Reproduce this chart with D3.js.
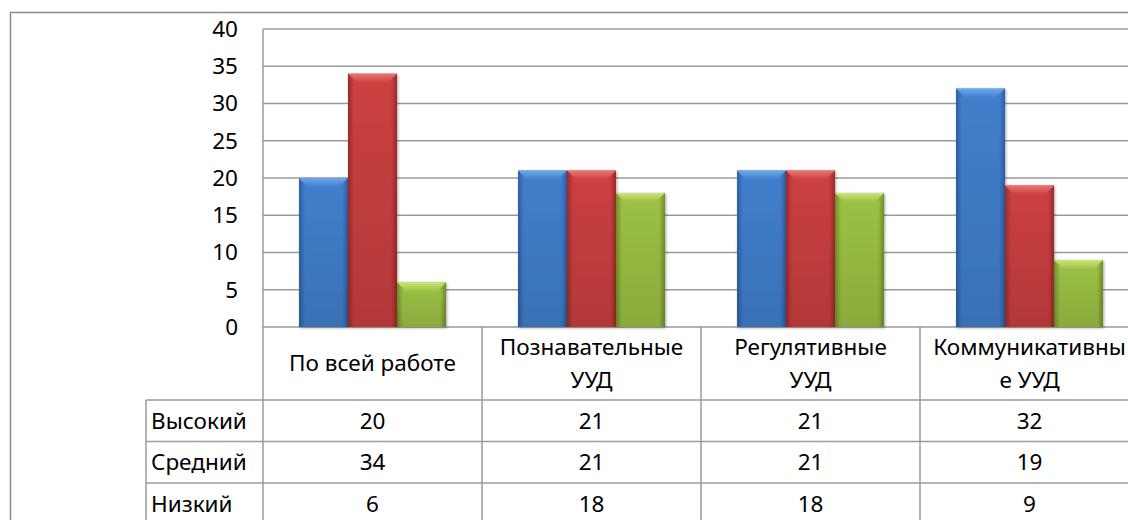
<!DOCTYPE html>
<html>
<head>
<meta charset="utf-8">
<title>УУД</title>
<script src="https://d3js.org/d3.v7.min.js"></script>
<style>
  body { margin: 0; background: #fff; }
  text { font-family: "Noto Sans", "Open Sans", sans-serif; fill: #000; }
</style>
</head>
<body>
<div id="chart"></div>
<script>
var categories = ["По всей работе", "Познавательные УУД", "Регулятивные УУД", "Коммуникативные УУД"];
var categoryLines = [["По всей работе"], ["Познавательные", "УУД"], ["Регулятивные", "УУД"], ["Коммуникативны", "е УУД"]];
var seriesNames = ["Высокий", "Средний", "Низкий"];
var high = [20, 21, 21, 32];
var mid = [34, 21, 21, 19];
var low = [6, 18, 18, 9];
var yTicks = [0, 5, 10, 15, 20, 25, 30, 35, 40];

var seriesValues = [high, mid, low];
var colors = [
  { edge: "#2c5fa3", center: "#417fcd", top: "#6fa8ea" },
  { edge: "#9c2a2a", center: "#cc4040", top: "#ea7676" },
  { edge: "#6f8f28", center: "#9dc145", top: "#cce47a" }
];

var width = 1128, height = 520;
var plotLeft = 263, plotRight = 1139, plotTop = 29, plotBottom = 327;
var headerH = 73, rowH = 41.5, tableLeft = 146;
var fontSize = 22.5;

var svg = d3.select("#chart").append("svg")
  .attr("width", width)
  .attr("height", height);

var defs = svg.append("defs");
colors.forEach(function (c, i) {
  var g = defs.append("linearGradient").attr("id", "side" + i)
    .attr("x1", 0).attr("x2", 1).attr("y1", 0).attr("y2", 0);
  g.append("stop").attr("offset", "0%").attr("stop-color", c.edge);
  g.append("stop").attr("offset", "12%").attr("stop-color", c.center);
  g.append("stop").attr("offset", "88%").attr("stop-color", c.center);
  g.append("stop").attr("offset", "100%").attr("stop-color", c.edge);
  var t = defs.append("linearGradient").attr("id", "top" + i)
    .attr("x1", 0).attr("x2", 0).attr("y1", 0).attr("y2", 1);
  t.append("stop").attr("offset", "0%").attr("stop-color", c.top);
  t.append("stop").attr("offset", "100%").attr("stop-color", c.center);
});
var shade = defs.append("linearGradient").attr("id", "shade")
  .attr("x1", 0).attr("x2", 0).attr("y1", 0).attr("y2", 1);
shade.append("stop").attr("offset", "0%").attr("stop-color", "#000").attr("stop-opacity", 0);
shade.append("stop").attr("offset", "100%").attr("stop-color", "#000").attr("stop-opacity", 0.12);

var shadow = defs.append("filter").attr("id", "shadow")
  .attr("x", "-20%").attr("y", "-20%").attr("width", "140%").attr("height", "140%");
shadow.append("feDropShadow").attr("dx", 1).attr("dy", 1).attr("stdDeviation", 1.5)
  .attr("flood-color", "#000").attr("flood-opacity", 0.35);

var y = d3.scaleLinear().domain([0, 40]).range([plotBottom, plotTop]);
var x0 = d3.scaleBand().domain(categories).range([plotLeft, plotRight]);
var x1 = d3.scaleBand().domain(seriesNames).range([0, x0.bandwidth()]).paddingOuter(0.735);

// table grid
var tableTop = plotBottom;
var rowsTop = tableTop + headerH;
var tableBottom = rowsTop + rowH * seriesNames.length;

var hLines = d3.range(seriesNames.length + 1).map(function (r) { return rowsTop + r * rowH; });
svg.append("g").selectAll("line").data(hLines).join("line")
  .attr("x1", tableLeft).attr("x2", plotRight)
  .attr("y1", function (d) { return d; })
  .attr("y2", function (d) { return d; })
  .attr("stroke", "#9a9a9a").attr("stroke-width", 1.5);

var vLines = [{ x: tableLeft, top: rowsTop }].concat(categories.map(function (cat) {
  return { x: x0(cat), top: tableTop };
}));
svg.append("g").selectAll("line").data(vLines).join("line")
  .attr("x1", function (d) { return d.x; })
  .attr("x2", function (d) { return d.x; })
  .attr("y1", function (d) { return d.top; })
  .attr("y2", tableBottom)
  .attr("stroke", "#9a9a9a").attr("stroke-width", 1.5);

// gridlines
svg.append("g").selectAll("line").data(yTicks).join("line")
  .attr("x1", plotLeft).attr("x2", plotRight)
  .attr("y1", function (d) { return y(d); })
  .attr("y2", function (d) { return y(d); })
  .attr("stroke", "#9a9a9a").attr("stroke-width", 1.5);

// y axis line
svg.append("line")
  .attr("x1", plotLeft).attr("x2", plotLeft)
  .attr("y1", plotTop).attr("y2", plotBottom)
  .attr("stroke", "#9a9a9a").attr("stroke-width", 1.5);

// outer border
svg.append("rect")
  .attr("x", 10.5).attr("y", 12.5)
  .attr("width", width).attr("height", height)
  .attr("fill", "none").attr("stroke", "#8c8c8c").attr("stroke-width", 1.5);

// y tick labels
svg.append("g").selectAll("text").data(yTicks).join("text")
  .attr("x", plotLeft - 25)
  .attr("y", function (d) { return y(d); })
  .attr("dy", "0.35em")
  .attr("text-anchor", "end")
  .attr("font-size", fontSize)
  .text(function (d) { return d; });

// bars
seriesValues.forEach(function (vals, si) {
  var g = svg.append("g").attr("filter", "url(#shadow)");
  categories.forEach(function (cat, ci) {
    var bx = x0(cat) + x1(seriesNames[si]);
    var bw = x1.bandwidth();
    var by = y(vals[ci]);
    var bh = y(0) - by;
    var bev = Math.min(9, bh / 2);
    g.append("rect")
      .attr("x", bx).attr("y", by)
      .attr("width", bw).attr("height", bh)
      .attr("fill", "url(#side" + si + ")");
    g.append("rect")
      .attr("x", bx).attr("y", by)
      .attr("width", bw).attr("height", bh)
      .attr("fill", "url(#shade)");
    g.append("path")
      .attr("d", "M" + bx + "," + by + "L" + (bx + bw) + "," + by +
        "L" + (bx + bw - bev) + "," + (by + bev) + "L" + (bx + bev) + "," + (by + bev) + "Z")
      .attr("fill", "url(#top" + si + ")");
  });
});

// header labels
categories.forEach(function (cat, ci) {
  var lines = categoryLines[ci];
  var cx = x0(cat) + x0.bandwidth() / 2;
  var cy = tableTop + headerH / 2;
  var lh = 33;
  lines.forEach(function (l, li) {
    svg.append("text")
      .attr("x", cx)
      .attr("y", cy + (li - (lines.length - 1) / 2) * lh)
      .attr("dy", "0.35em")
      .attr("text-anchor", "middle")
      .attr("font-size", fontSize)
      .text(l);
  });
});

// row labels and values
seriesNames.forEach(function (name, si) {
  var cy = rowsTop + si * rowH + rowH / 2;
  svg.append("text")
    .attr("x", tableLeft + 5).attr("y", cy).attr("dy", "0.35em")
    .attr("font-size", fontSize)
    .text(name);
  categories.forEach(function (cat, ci) {
    svg.append("text")
      .attr("x", x0(cat) + x0.bandwidth() / 2).attr("y", cy).attr("dy", "0.35em")
      .attr("text-anchor", "middle")
      .attr("font-size", fontSize)
      .text(seriesValues[si][ci]);
  });
});
</script>
</body>
</html>
